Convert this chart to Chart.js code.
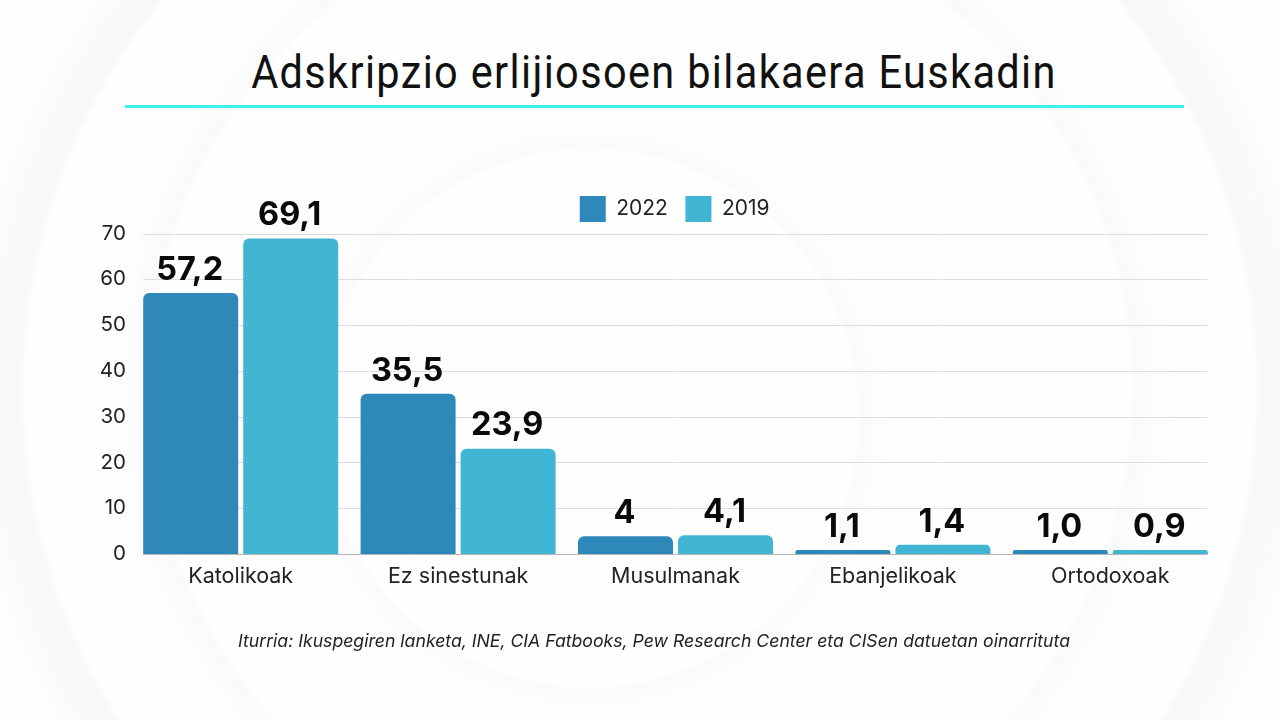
<!DOCTYPE html>
<html lang="eu">
<head>
<meta charset="UTF-8">
<title>Adskripzio erlijiosoen bilakaera Euskadin</title>
<script src="https://cdn.jsdelivr.net/npm/chart.js"></script>
<style>
    html, body { margin: 0; width: 1280px; height: 720px; overflow: hidden; background: #fff; }
    .bg {
        position: absolute; inset: 0;
        background:
            radial-gradient(circle at 590px 418px, rgba(0,0,0,0) 266px, rgba(60,60,80,.02) 272px, rgba(60,60,80,0) 300px),
            radial-gradient(circle at 640px 390px, rgba(0,0,0,0) 488px, rgba(60,60,80,.02) 496px, rgba(60,60,80,0) 535px),
            radial-gradient(circle at 640px 390px, rgba(0,0,0,0) 614px, rgba(60,60,80,.03) 620px, rgba(60,60,80,0) 690px),
            #fefefe;
    }
    h1 {
        position: absolute; left: 0; top: 41px; width: 1308px; margin: 0; text-align: center;
        font: 400 46px/62px Roboto, sans-serif; letter-spacing: 1.5px; color: #111;
        transform: scaleX(0.902);
    }
    .rule { position: absolute; left: 125px; top: 105px; width: 1059px; height: 3px; background: #40eef2; }
    .source {
        position: absolute; left: 0; top: 630px; width: 1308px; text-align: center;
        font: italic 400 17.65px/22px Inter, sans-serif; color: #222;
    }
    canvas { position: absolute; left: 0; top: 0; }
</style>
</head>
<body>
<div class="bg"></div>
<h1>Adskripzio erlijiosoen bilakaera Euskadin</h1>
<div class="rule"></div>
<canvas id="chart" width="1280" height="720"></canvas>
<div class="source">Iturria: Ikuspegiren lanketa, INE, CIA Fatbooks, Pew Research Center eta CISen datuetan oinarrituta</div>

<script>
const categories = ['Katolikoak', 'Ez sinestunak', 'Musulmanak', 'Ebanjelikoak', 'Ortodoxoak'];
// bar heights as drawn in the picture, the printed labels are not always the same
const values2022 = [57, 35, 3.9, 0.9, 0.9];
const values2019 = [68.9, 23, 4.1, 2, 0.9];
const labels2022 = ['57,2', '35,5', '4', '1,1', '1,0'];
const labels2019 = ['69,1', '23,9', '4,1', '1,4', '0,9'];
const seriesNames = ['2022', '2019'];

const FONT = 'Inter, sans-serif';
const LEGEND_PADDING = 17.5;

// legend sits over the plot, not centred on the canvas
const moveLegend = {
    id: 'moveLegend',
    afterLayout(chart) {
        const l = chart.legend;
        const w = l.right - l.left;
        const h = l.bottom - l.top;
        l.left = 571 - (l.width - l.lineWidths[0]) / 2;
        l.right = l.left + w;
        l.top = 196 - LEGEND_PADDING;
        l.bottom = l.top + h;
    }
};

// gridlines stop at the outer bar edges, so they are drawn here
const insetGrid = {
    id: 'insetGrid',
    beforeDatasetsDraw(chart) {
        const { ctx, scales: { y } } = chart;
        const first = chart.getDatasetMeta(0).data[0];
        const last = chart.getDatasetMeta(1).data[categories.length - 1];
        const x0 = first.x - first.width / 2;
        const x1 = last.x + last.width / 2;
        ctx.save();
        ctx.lineWidth = 1;
        y.ticks.forEach(t => {
            const py = Math.round(y.getPixelForValue(t.value)) + 0.5;
            ctx.strokeStyle = t.value === 0 ? '#b4b4b4' : '#dddddd';
            ctx.beginPath();
            ctx.moveTo(x0, py);
            ctx.lineTo(x1, py);
            ctx.stroke();
        });
        ctx.restore();
    }
};

const barLabels = {
    id: 'barLabels',
    afterDatasetsDraw(chart) {
        const { ctx } = chart;
        ctx.save();
        ctx.font = '700 32.5px ' + FONT;
        ctx.fillStyle = '#0a0a0a';
        ctx.textAlign = 'center';
        ctx.textBaseline = 'middle';
        [labels2022, labels2019].forEach((texts, i) => {
            chart.getDatasetMeta(i).data.forEach((bar, j) => {
                ctx.fillText(texts[j], bar.x - 1, bar.y - 23);
            });
        });
        ctx.restore();
    }
};

new Chart(document.getElementById('chart'), {
    type: 'bar',
    data: {
        labels: categories,
        datasets: [
            { label: seriesNames[0], data: values2022, backgroundColor: '#2e88b9' },
            { label: seriesNames[1], data: values2019, backgroundColor: '#41b6d4' }
        ]
    },
    plugins: [moveLegend, insetGrid, barLabels],
    options: {
        responsive: false,
        animation: false,
        layout: { padding: { top: 180, right: 61, bottom: 106, left: 0 } },
        datasets: {
            bar: {
                categoryPercentage: 0.92,
                barPercentage: 0.95,
                borderRadius: { topLeft: 6, topRight: 6 },
                borderSkipped: false
            }
        },
        scales: {
            x: {
                grid: { display: false },
                border: { display: false },
                ticks: { color: '#222', font: { family: FONT, size: 21.5 }, padding: 2, maxRotation: 0 },
                afterFit: s => { s.height = 60; }
            },
            y: {
                min: 0,
                max: 70,
                grid: { display: false, drawTicks: false },
                border: { display: false },
                ticks: { stepSize: 10, color: '#222', font: { family: FONT, size: 20.5 }, padding: 6 },
                afterFit: s => { s.width = 132; }
            }
        },
        plugins: {
            tooltip: { enabled: false },
            legend: {
                position: 'top',
                labels: {
                    color: '#222',
                    font: { family: FONT, size: 21 },
                    boxWidth: 26,
                    boxHeight: 26,
                    padding: LEGEND_PADDING
                }
            }
        }
    }
});
</script>
</body>
</html>
